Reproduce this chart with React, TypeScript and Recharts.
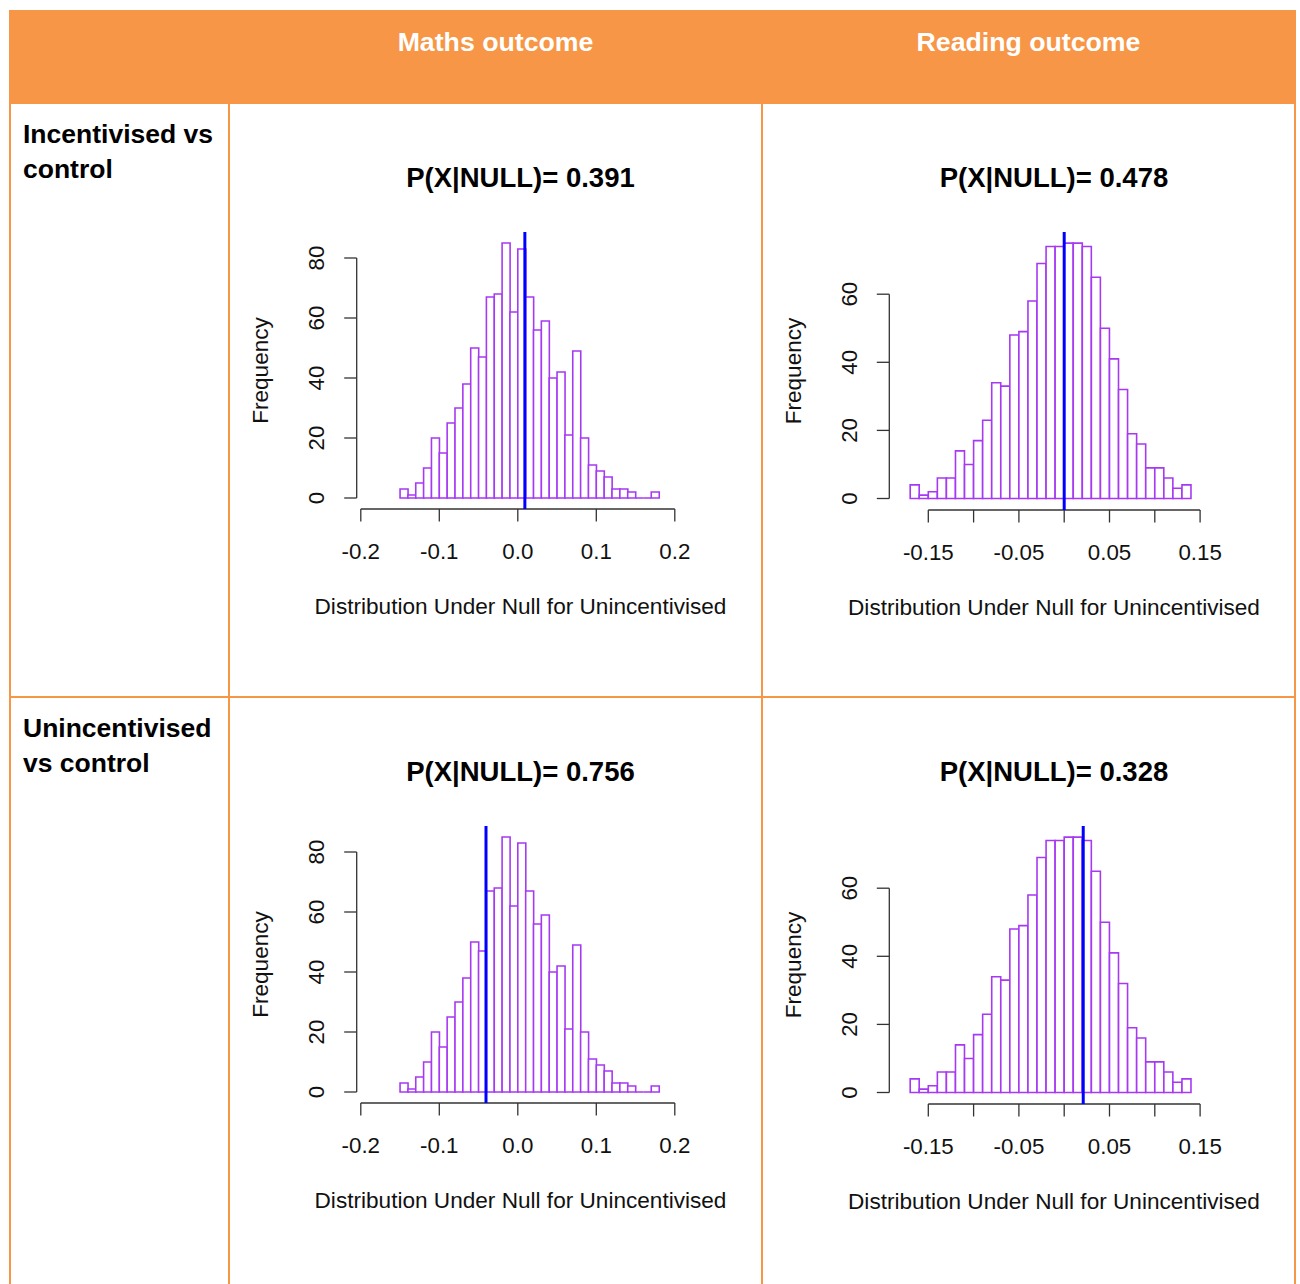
import React from 'react';
import { ComposedChart, Bar, XAxis, YAxis, ReferenceLine } from 'recharts';

// histogram breaks (bin edges) and counts
const mathsBreaks = [
  -0.15, -0.14, -0.13, -0.12, -0.11, -0.1, -0.09, -0.08, -0.07, -0.06, -0.05, -0.04,
  -0.03, -0.02, -0.01, 0, 0.01, 0.02, 0.03, 0.04, 0.05, 0.06, 0.07, 0.08, 0.09, 0.1,
  0.11, 0.12, 0.13, 0.14, 0.15, 0.16, 0.17, 0.18,
];
const mathsCounts = [
  3, 1, 5, 10, 20, 15, 25, 30, 38, 50, 47, 67, 68, 85, 62, 83, 67, 56, 59, 40, 42, 21,
  49, 20, 11, 9, 7, 3, 3, 2, 0, 0, 2,
];

const readingBreaks = [
  -0.17, -0.16, -0.15, -0.14, -0.13, -0.12, -0.11, -0.1, -0.09, -0.08, -0.07, -0.06,
  -0.05, -0.04, -0.03, -0.02, -0.01, 0, 0.01, 0.02, 0.03, 0.04, 0.05, 0.06, 0.07, 0.08,
  0.09, 0.1, 0.11, 0.12, 0.13, 0.14,
];
const readingCounts = [
  4, 1, 2, 6, 6, 14, 10, 17, 23, 34, 33, 48, 49, 58, 69, 74, 74, 75, 75, 74, 65, 50, 41,
  32, 19, 16, 9, 9, 6, 3, 4,
];

const mathsXTicks = [-0.2, -0.1, 0, 0.1, 0.2];
const mathsXLabels = ['-0.2', '-0.1', '0.0', '0.1', '0.2'];
const mathsYTicks = [0, 20, 40, 60, 80];

const readingXTicks = [-0.15, -0.1, -0.05, 0, 0.05, 0.1, 0.15];
const readingXLabels = ['-0.15', '', '-0.05', '', '0.05', '', '0.15'];
const readingYTicks = [0, 20, 40, 60];

const outcomeHeaders = ['Maths outcome', 'Reading outcome'];
const rowLabels = [
  ['Incentivised vs', 'control'],
  ['Unincentivised', 'vs control'],
];
// P(X|NULL) per [row][outcome]
const pValues = [
  ['0.391', '0.478'],
  ['0.756', '0.328'],
];
// observed effect (blue line) per [row][outcome]
const observedEffects = [
  [0.009, 0.0],
  [-0.0405, 0.021],
];

const xTitle = 'Distribution Under Null for Unincentivised';
const yTitle = 'Frequency';

const ORANGE = '#F79646';
const PURPLE = '#A639F2';
const AXIS = '#333';
const FONT = '"Liberation Sans", Arial, sans-serif';

const ROW_SHIFT = 594;
const CHART_TOP = 200;
const CHART_BOTTOM = 660;
const PLOT_TOP = 232;
const Y_AXIS_W = 110;
const X_AXIS_H = 120;
const TICK = 12.5;

const layouts = [
  {
    breaks: mathsBreaks, counts: mathsCounts,
    xTicks: mathsXTicks, xLabels: mathsXLabels, yTicks: mathsYTicks,
    chartLeft: 232, chartRight: 760, plotLeft: 356.7, plotRight: 684.3,
    xRef: -0.2, xRefPx: 360.8, xPx: 785,
    zeroPx: 498, axisPx: 509, yPx: 3,
  },
  {
    breaks: readingBreaks, counts: readingCounts,
    xTicks: readingXTicks, xLabels: readingXLabels, yTicks: readingYTicks,
    chartLeft: 765, chartRight: 1293, plotLeft: 889.3, plotRight: 1218.7,
    xRef: -0.15, xRefPx: 928.3, xPx: 906,
    zeroPx: 498.5, axisPx: 510, yPx: 3.405,
  },
];

const HistBar = (props: any) => {
  const { x, y, width, height } = props;
  const b = y + height;
  return (
    <path
      d={`M${x},${b} L${x},${y} L${x + width},${y} L${x + width},${b} Z`}
      fill="#fff"
      stroke={PURPLE}
      strokeWidth={1.6}
    />
  );
};

const XTick = ({ x, y, payload, ticks, labels }: any) => {
  const i = ticks.findIndex((t: number) => Math.abs(t - payload.value) < 1e-9);
  return (
    <text x={x} y={y + 50 - TICK} textAnchor="middle" fontSize={22.3} fontFamily={FONT} fill="#111">
      {i >= 0 ? labels[i] : ''}
    </text>
  );
};

const YTick = ({ x, y, payload }: any) => {
  const cx = x - 28.3;
  return (
    <text
      x={cx}
      y={y}
      dy="0.36em"
      transform={`rotate(-90 ${cx} ${y})`}
      textAnchor="middle"
      fontSize={22.3}
      fontFamily={FONT}
      fill="#111"
    >
      {payload.value}
    </text>
  );
};

const XTitle = ({ viewBox }: any) => (
  <text
    x={viewBox.x + viewBox.width / 2}
    y={viewBox.y + 105}
    textAnchor="middle"
    fontSize={22.6}
    fontFamily={FONT}
    fill="#111"
  >
    {xTitle}
  </text>
);

const YTitle = ({ viewBox }: any) => {
  const cx = viewBox.x + viewBox.width - 96.5;
  const cy = viewBox.y + viewBox.height / 2;
  return (
    <text
      x={cx}
      y={cy}
      dy="0.36em"
      transform={`rotate(-90 ${cx} ${cy})`}
      textAnchor="middle"
      fontSize={22.6}
      fontFamily={FONT}
      fill="#111"
    >
      {yTitle}
    </text>
  );
};

const Histogram = ({ row, col }: { row: number; col: number }) => {
  const g = layouts[col];
  const dy = row * ROW_SHIFT;
  const data = g.counts.map((c, i) => ({ mid: (g.breaks[i] + g.breaks[i + 1]) / 2, count: c }));
  const xMin = g.xRef + (g.plotLeft - g.xRefPx) / g.xPx;
  const xMax = g.xRef + (g.plotRight - g.xRefPx) / g.xPx;
  const yMin = -(g.axisPx - g.zeroPx) / g.yPx;
  const yMax = (g.zeroPx - PLOT_TOP) / g.yPx;
  const margin = {
    top: PLOT_TOP - CHART_TOP,
    left: g.plotLeft - g.chartLeft - Y_AXIS_W,
    right: g.chartRight - g.plotRight,
    bottom: CHART_BOTTOM - g.axisPx - X_AXIS_H,
  };
  const centerX = (g.plotLeft + g.plotRight) / 2;

  return (
    <>
      <div
        style={{
          position: 'absolute',
          left: centerX - 200,
          width: 400,
          top: 162 + dy,
          textAlign: 'center',
          fontFamily: FONT,
          fontWeight: 'bold',
          fontSize: 27.5,
          lineHeight: '31px',
          color: '#000',
        }}
      >
        P(X|NULL)= {pValues[row][col]}
      </div>
      <div style={{ position: 'absolute', left: g.chartLeft, top: CHART_TOP + dy }}>
        <ComposedChart
          width={g.chartRight - g.chartLeft}
          height={CHART_BOTTOM - CHART_TOP}
          data={data}
          margin={margin}
          barCategoryGap={0}
          barGap={0}
        >
          <XAxis
            type="number"
            dataKey="mid"
            domain={[xMin, xMax]}
            allowDataOverflow
            ticks={g.xTicks}
            interval={0}
            axisLine={false}
            tickSize={TICK}
            tickMargin={0}
            tickLine={{ stroke: AXIS, strokeWidth: 1.3 }}
            height={X_AXIS_H}
            tick={(p: any) => <XTick {...p} ticks={g.xTicks} labels={g.xLabels} />}
            label={<XTitle />}
          />
          <YAxis
            type="number"
            domain={[yMin, yMax]}
            allowDataOverflow
            ticks={g.yTicks}
            interval={0}
            axisLine={false}
            width={Y_AXIS_W}
            tickSize={TICK}
            tickMargin={0}
            tickLine={{ stroke: AXIS, strokeWidth: 1.3 }}
            tick={(p: any) => <YTick {...p} />}
            label={<YTitle />}
          />
          <Bar dataKey="count" isAnimationActive={false} shape={<HistBar />} />
          <ReferenceLine
            segment={[
              { x: g.xTicks[0], y: yMin },
              { x: g.xTicks[g.xTicks.length - 1], y: yMin },
            ]}
            stroke={AXIS}
            strokeWidth={1.3}
            ifOverflow="visible"
          />
          <ReferenceLine
            segment={[
              { x: xMin, y: 0 },
              { x: xMin, y: g.yTicks[g.yTicks.length - 1] },
            ]}
            stroke={AXIS}
            strokeWidth={1.3}
            ifOverflow="visible"
          />
          <ReferenceLine x={observedEffects[row][col]} stroke="#0000FF" strokeWidth={3} ifOverflow="visible" />
        </ComposedChart>
      </div>
    </>
  );
};

const line = (left: number, top: number, width: number, height: number) => (
  <div style={{ position: 'absolute', left, top, width, height, background: ORANGE }} />
);

export default function App() {
  return (
    <div
      style={{
        position: 'absolute',
        left: 0,
        top: 0,
        width: 1300,
        height: 1284,
        overflow: 'hidden',
        background: '#fff',
        fontFamily: FONT,
      }}
    >
      {/* header band */}
      <div style={{ position: 'absolute', left: 9, top: 10, width: 1287, height: 94, background: ORANGE }} />
      {outcomeHeaders.map((h, i) => (
        <div
          key={h}
          style={{
            position: 'absolute',
            left: i === 0 ? 229 : 762,
            width: 533,
            top: 27.2,
            textAlign: 'center',
            color: '#fff',
            fontWeight: 'bold',
            fontSize: 26.7,
            lineHeight: '30px',
          }}
        >
          {h}
        </div>
      ))}

      {/* table grid */}
      {line(9, 104, 2, 1180)}
      {line(228, 104, 2, 1180)}
      {line(761, 104, 2, 1180)}
      {line(1294, 104, 2, 1180)}
      {line(9, 696, 1287, 2)}

      {rowLabels.map((lines, r) => (
        <div
          key={r}
          style={{
            position: 'absolute',
            left: 23,
            top: 116.8 + r * ROW_SHIFT,
            fontWeight: 'bold',
            fontSize: 26.5,
            lineHeight: '35px',
            color: '#000',
          }}
        >
          {lines.map((t) => (
            <div key={t}>{t}</div>
          ))}
        </div>
      ))}

      {[0, 1].map((r) => [0, 1].map((c) => <Histogram key={`${r}-${c}`} row={r} col={c} />))}
    </div>
  );
}
